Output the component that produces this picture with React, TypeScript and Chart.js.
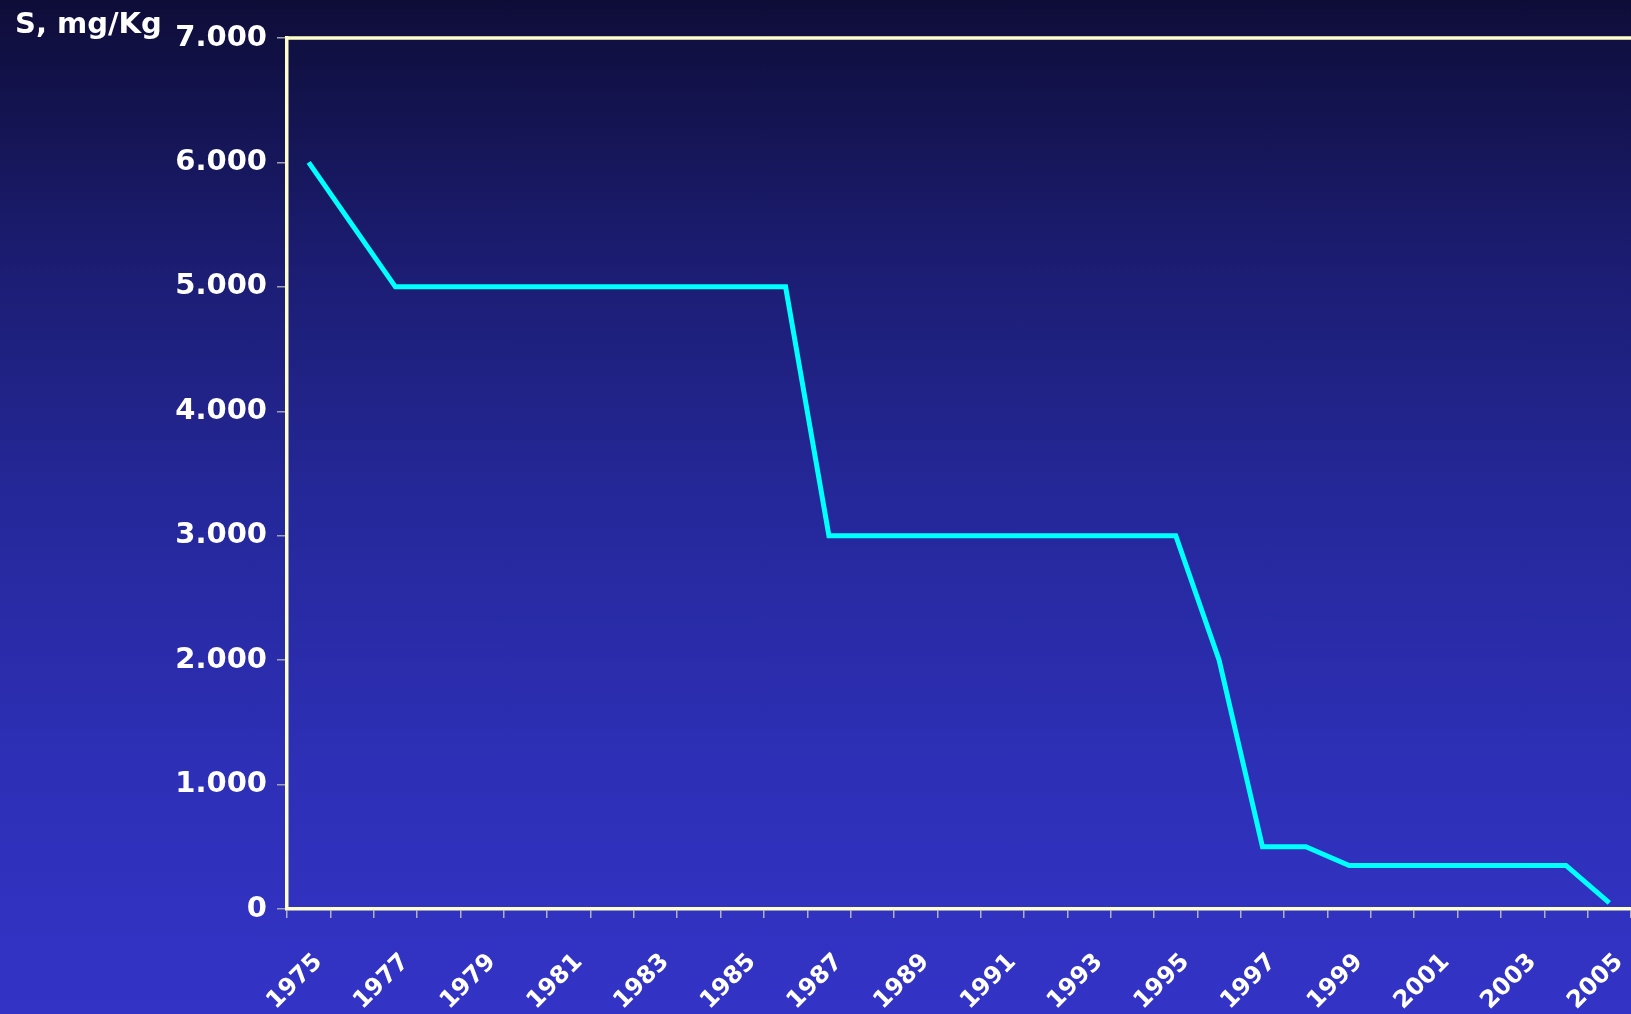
import React, { useEffect, useRef } from "react";
import { Chart, registerables } from "chart.js";

Chart.register(...registerables);

const years: string[] = [
  "1975", "1976", "1977", "1978", "1979", "1980", "1981", "1982", "1983", "1984",
  "1985", "1986", "1987", "1988", "1989", "1990", "1991", "1992", "1993", "1994",
  "1995", "1996", "1997", "1998", "1999", "2000", "2001", "2002", "2003", "2004", "2005",
];

const sulphur: number[] = [
  6000, 5500, 5000, 5000, 5000, 5000, 5000, 5000, 5000, 5000,
  5000, 5000, 3000, 3000, 3000, 3000, 3000, 3000, 3000, 3000,
  3000, 2000, 500, 500, 350, 350, 350, 350, 350, 350, 50,
];

const yMin = 0;
const yMax = 7000;
const yStep = 1000;
const unitLabel = "S, mg/Kg";

const FONT = "'DejaVu Sans', 'Liberation Sans', sans-serif";

const W = 1631;
const H = 1014;

const topBorder = {
  id: "topBorder",
  afterDraw(chart: any) {
    const { ctx, chartArea } = chart;
    ctx.save();
    ctx.strokeStyle = "#ffffcc";
    ctx.lineWidth = 3.5;
    ctx.beginPath();
    ctx.moveTo(chartArea.left - 1.5, chartArea.top);
    ctx.lineTo(W, chartArea.top);
    ctx.stroke();
    ctx.restore();
  },
};

function fmt(v: number): string {
  const s = Math.round(v).toString();
  return s.replace(/\B(?=(\d{3})+(?!\d))/g, ".");
}

export default function App() {
  const ref = useRef<HTMLCanvasElement | null>(null);

  useEffect(() => {
    const canvas = ref.current;
    if (!canvas) return;
    const chart = new Chart(canvas, {
      type: "line",
      data: {
        labels: years,
        datasets: [
          {
            data: sulphur,
            borderColor: "#00ffff",
            borderWidth: 5,
            pointRadius: 0,
            tension: 0,
            fill: false,
            borderJoinStyle: "miter",
          },
        ],
      },
      plugins: [topBorder],
      options: {
        responsive: false,
        animation: false,
        devicePixelRatio: 1,
        layout: { padding: { top: 38, right: 0, left: 0, bottom: 0 } },
        plugins: {
          legend: { display: false },
          tooltip: { enabled: false },
          title: { display: false },
        },
        scales: {
          x: {
            type: "category",
            offset: true,
            afterFit(scale: any) {
              scale.height = H - 909;
              scale.paddingRight = -4;
            },
            grid: {
              offset: true,
              drawOnChartArea: false,
              drawTicks: true,
              tickLength: 9,
              color: "#b0b0c0",
              lineWidth: 1.5,
            },
            border: { display: true, color: "#ffffcc", width: 3.5 },
            ticks: {
              autoSkip: false,
              maxRotation: 45,
              minRotation: 45,
              padding: 30,
              labelOffset: 10,
              color: "#ffffff",
              font: { family: FONT, size: 24, weight: "bold" },
              callback: (_v: any, i: number) => (i % 2 === 0 ? years[i] : ""),
            },
          },
          y: {
            min: yMin,
            max: yMax,
            afterFit(scale: any) {
              scale.width = 287;
            },
            grid: {
              drawOnChartArea: false,
              drawTicks: true,
              tickLength: 10,
              color: "#a0a0b0",
              lineWidth: 1.5,
            },
            border: { display: true, color: "#ffffcc", width: 3.5 },
            ticks: {
              stepSize: yStep,
              padding: 10,
              color: "#ffffff",
              font: { family: FONT, size: 29, weight: "bold" },
              callback: (v: any) => fmt(Number(v)),
            },
          },
        },
      },
    });
    return () => chart.destroy();
  }, []);

  return (
    <div
      style={{
        position: "fixed",
        left: 0,
        top: 0,
        width: W,
        height: H,
        background:
          "linear-gradient(to bottom, #0e0d38 0%, #1b1c70 25%, #25289a 50%, #2d2fb6 75%, #3334c6 100%)",
        overflow: "hidden",
      }}
    >
      <div
        style={{
          position: "absolute",
          left: 15,
          top: 6,
          color: "#ffffff",
          fontFamily: FONT,
          fontWeight: "bold",
          fontSize: 29,
          whiteSpace: "nowrap",
        }}
      >
        {unitLabel}
      </div>
      <canvas ref={ref} width={W} height={H} style={{ display: "block" }} />
    </div>
  );
}
